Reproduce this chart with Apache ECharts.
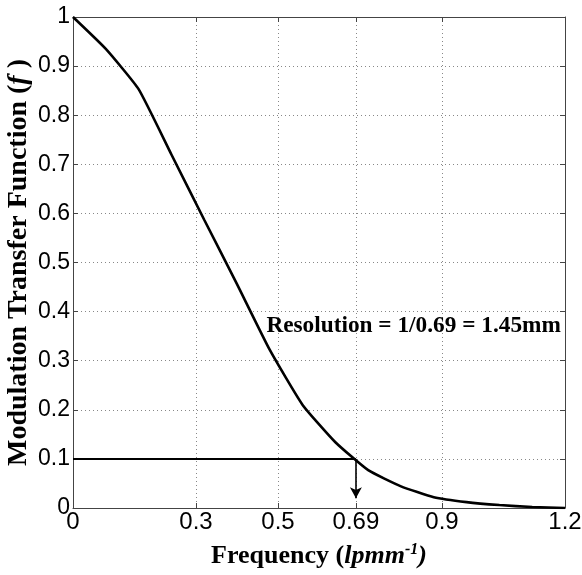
<!DOCTYPE html>
<html><head><meta charset="utf-8">
<script src="https://cdn.jsdelivr.net/npm/echarts@6/dist/echarts.min.js"></script>
<style>html,body{margin:0;padding:0;background:#fff}#c{width:582px;height:575px}</style>
</head><body><div id="c"></div>
<script>
// Data
const freq = [0, 0.08, 0.16, 0.24, 0.32, 0.40, 0.48, 0.56, 0.64, 0.72, 0.80, 0.88, 0.96, 1.04, 1.12, 1.20];
const mtf  = [1.0, 0.935, 0.853, 0.72, 0.587, 0.456, 0.322, 0.21, 0.134, 0.077, 0.044, 0.022, 0.012, 0.006, 0.002, 0.0];
const xTicks = [0, 0.3, 0.5, 0.69, 0.9, 1.2];
const yMin = 0, yMax = 1, yStep = 0.1;
const xMin = 0, xMax = 1.2;
const cutoffFreq = 0.69;
const cutoffMtf = 0.1;
const arrowEnd = 0.02;
const annotationText = 'Resolution = 1/0.69 = 1.45mm';
const annotationAt = [0.468, 0.370];

const serif = '"Liberation Serif", "Times New Roman", serif';
const sans = '"Liberation Sans", Arial, sans-serif';
const axisColor = '#444';

const chart = echarts.init(document.getElementById('c'), null, {renderer: 'canvas'});
chart.setOption({
  animation: false,
  backgroundColor: '#fff',
  grid: {left: 73, right: 17, top: 17, bottom: 67, containLabel: false, outerBoundsMode: 'none'},
  xAxis: [{
    type: 'value', min: xMin, max: xMax, position: 'bottom',
    name: '{b|Frequency (}{i|lpmm}{s|-1}{i|)}',
    nameLocation: 'middle', nameGap: 34, nameMoveOverlap: false,
    nameTextStyle: {
      rich: {
        b: {fontFamily: serif, fontWeight: 'bold', fontSize: 26, color: '#000', lineHeight: 29},
        i: {fontFamily: serif, fontWeight: 'bold', fontStyle: 'italic', fontSize: 26, color: '#000', lineHeight: 29},
        s: {fontFamily: serif, fontWeight: 'bold', fontStyle: 'italic', fontSize: 16, color: '#000', lineHeight: 16, verticalAlign: 'top'}
      }
    },
    axisLine: {show: true, onZero: false, lineStyle: {color: axisColor, width: 1}},
    axisTick: {show: true, inside: true, length: 5, customValues: xTicks, lineStyle: {color: axisColor}},
    axisLabel: {show: true, customValues: xTicks, fontFamily: sans, fontSize: 24, color: '#000', margin: 2,
      formatter: v => String(v)},
    splitLine: {show: true, lineStyle: {type: [1, 3], color: '#888', width: 1}}
  }, {
    type: 'value', min: xMin, max: xMax, position: 'top',
    axisLine: {show: true, onZero: false, lineStyle: {color: axisColor, width: 1}},
    axisTick: {show: true, inside: true, length: 5, customValues: xTicks, lineStyle: {color: axisColor}},
    axisLabel: {show: false},
    splitLine: {show: false}
  }],
  yAxis: [{
    type: 'value', min: yMin, max: yMax, interval: yStep, position: 'left',
    name: '{b|Modulation Transfer Function (}{i|f}{b| )}',
    nameLocation: 'middle', nameGap: 40, nameMoveOverlap: false,
    nameTextStyle: {
      rich: {
        b: {fontFamily: serif, fontWeight: 'bold', fontSize: 28, color: '#000'},
        i: {fontFamily: serif, fontWeight: 'bold', fontStyle: 'italic', fontSize: 28, color: '#000'}
      }
    },
    axisLine: {show: true, onZero: false, lineStyle: {color: axisColor, width: 1}},
    axisTick: {show: true, inside: true, length: 5, lineStyle: {color: axisColor}},
    axisLabel: {fontFamily: sans, fontSize: 23, color: '#000', margin: 3},
    splitLine: {show: true, lineStyle: {type: [1, 3], color: '#888', width: 1}}
  }, {
    type: 'value', min: yMin, max: yMax, interval: yStep, position: 'right',
    axisLine: {show: true, onZero: false, lineStyle: {color: axisColor, width: 1}},
    axisTick: {show: true, inside: true, length: 5, lineStyle: {color: axisColor}},
    axisLabel: {show: false},
    splitLine: {show: false}
  }],
  series: [{
    type: 'line', name: 'MTF', xAxisIndex: 0, yAxisIndex: 0,
    data: freq.map((f, i) => [f, mtf[i]]),
    symbol: 'none', smooth: 0.15,
    lineStyle: {color: '#000', width: 2.6},
    markPoint: {
      symbol: 'circle', symbolSize: 1, itemStyle: {color: 'rgba(0,0,0,0)'},
      label: {show: true, position: 'right', distance: 1, formatter: annotationText,
        fontFamily: serif, fontWeight: 'bold', fontSize: 23.3, color: '#000'},
      data: [{coord: annotationAt}]
    }
  }, {
    type: 'line', name: 'cutoff', xAxisIndex: 0, yAxisIndex: 0,
    data: [[xMin, cutoffMtf], [cutoffFreq, cutoffMtf]],
    symbol: 'none',
    lineStyle: {color: '#000', width: 2},
    markLine: {
      silent: true, symbol: ['none', 'arrow'], symbolSize: [9, 11],
      label: {show: false},
      lineStyle: {color: '#000', width: 1.6, type: 'solid'},
      data: [[{coord: [cutoffFreq, cutoffMtf]}, {coord: [cutoffFreq, arrowEnd]}]]
    }
  }]
});
</script></body></html>
